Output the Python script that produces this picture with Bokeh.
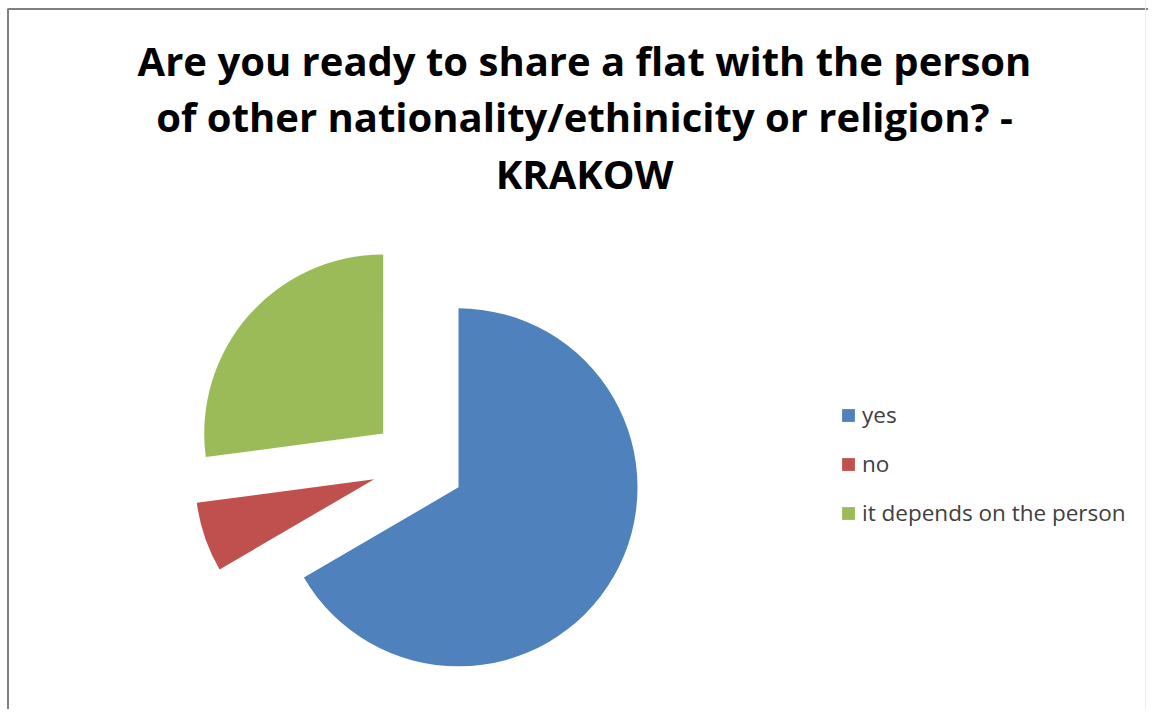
import numpy as np
from bokeh.plotting import figure
from bokeh.models import ColumnDataSource, Label, Legend, LegendItem, BoxAnnotation, Span, Range1d
from bokeh.embed import file_html
from bokeh.resources import INLINE

# ---- data ----
title_lines = [
    "Are you ready to share a flat with the person",
    "of other nationality/ethinicity or religion? -",
    "KRAKOW",
]
categories = ["yes", "no", "it depends on the person"]
values = [66.6, 6.3, 27.1]
colors = ["#4F81BD", "#C0504D", "#9BBB59"]

# ---- layout (data units == pixels, y measured from the bottom) ----
W, H = 1148, 709
cx, cy, R = 417.7, H - 463.7, 179
explode = 46.5

vals = np.array(values, dtype=float)
frac = vals / vals.sum()
ends = np.cumsum(frac) * 2 * np.pi
starts = ends - frac * 2 * np.pi
mids = (starts + ends) / 2

src = ColumnDataSource(dict(
    x=cx + explode * np.sin(mids),
    y=cy + explode * np.cos(mids),
    start=np.pi / 2 - starts,
    end=np.pi / 2 - ends,
    color=colors,
    label=categories,
))

p = figure(width=W, height=H, x_range=Range1d(0, W), y_range=Range1d(0, H),
           output_backend="svg", toolbar_location=None, min_border=0)
p.axis.visible = False
p.grid.visible = False
p.outline_line_color = None
p.background_fill_color = "white"
p.border_fill_color = "white"

r = p.wedge(x="x", y="y", radius=R, start_angle="start", end_angle="end",
            direction="clock", fill_color="color", line_color=None, source=src)

# chart-area border (dark top/left, faint right)
p.add_layout(BoxAnnotation(left=7.5, top=H - 8.5, right=W + 20, bottom=-20,
                           fill_alpha=0, line_color="#808080", line_alpha=1.0, line_width=2))
p.add_layout(Span(location=1145, dimension="height", line_color="#ececec", line_width=1))

# title (baselines)
title_base = [60, 116, 173]
for txt, tb in zip(title_lines, title_base):
    p.add_layout(Label(x=584, y=H - tb, text=txt, text_align="center", text_baseline="alphabetic",
                       text_font="Open Sans", text_font_style="bold", text_font_size="40px",
                       text_color="#000000"))

legend = Legend(items=[LegendItem(label=c, renderers=[r], index=i) for i, c in enumerate(categories)],
                location=(840, 181), orientation="vertical",
                glyph_width=16, glyph_height=16, label_height=20, spacing=18,
                label_standoff=6, padding=0, margin=0,
                border_line_color=None, background_fill_alpha=0,
                label_text_font="Open Sans", label_text_font_size="22.5px",
                label_text_color="#404040")
p.add_layout(legend)

open("out.html", "w").write(file_html(p, INLINE))
